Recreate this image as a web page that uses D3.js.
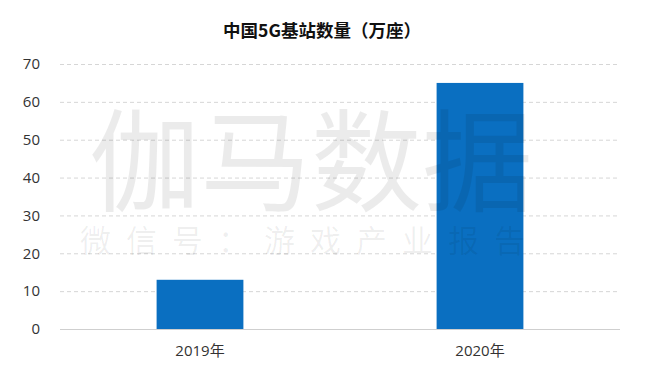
<!DOCTYPE html>
<html>
<head>
<meta charset="utf-8">
<script src="https://d3js.org/d3.v7.min.js"></script>
<style>
  body { margin: 0; background: #fff; }
  text { font-family: "Open Sans", "Noto Sans CJK SC", sans-serif; }
</style>
</head>
<body>
<div id="chart"></div>
<script>
  // chart data
  var years = ["2019年", "2020年"];
  var stations = [13, 65];
  var yTicks = [0, 10, 20, 30, 40, 50, 60, 70];
  var title = "中国5G基站数量（万座）";

  var width = 651, height = 376;
  var plotLeft = 60, plotRight = 620, plotTop = 64, plotBottom = 329;

  var svg = d3.select("#chart")
    .append("svg")
      .attr("width", width)
      .attr("height", height);

  var x = d3.scaleBand()
    .domain(years)
    .range([plotLeft, plotRight])
    .paddingInner(0.69)
    .paddingOuter(0.345);

  var y = d3.scaleLinear()
    .domain([0, 70])
    .range([plotBottom, plotTop]);

  // dashed gridlines
  svg.append("g")
    .selectAll("line")
    .data(yTicks.filter(function (d) { return d > 0; }))
    .enter()
    .append("line")
      .attr("x1", plotLeft)
      .attr("x2", plotRight)
      .attr("y1", function (d) { return y(d) + 0.5; })
      .attr("y2", function (d) { return y(d) + 0.5; })
      .style("stroke", "#d6d6d6")
      .style("stroke-dasharray", "4,3");

  // y axis labels
  var yAxis = d3.axisLeft(y).tickValues(yTicks).tickSize(0).tickPadding(20);
  svg.append("g")
    .attr("transform", "translate(" + plotLeft + ",0)")
    .call(yAxis)
    .call(function (g) { g.select(".domain").remove(); })
    .selectAll("text")
      .style("font-size", "15px")
      .style("fill", "#333");

  // bars
  svg.append("g")
    .selectAll("rect")
    .data(stations)
    .enter()
    .append("rect")
      .attr("x", function (d, i) { return x(years[i]); })
      .attr("width", x.bandwidth())
      .attr("y", function (d) { return y(d); })
      .attr("height", function (d) { return y(0) - y(d); })
      .style("fill", "#0a6fc1");

  // baseline
  svg.append("line")
    .attr("x1", plotLeft)
    .attr("x2", plotRight)
    .attr("y1", y(0) + 0.5)
    .attr("y2", y(0) + 0.5)
    .style("stroke", "#cfcfcf");

  // x axis labels
  var xAxis = d3.axisBottom(x).tickSize(0).tickPadding(16);
  svg.append("g")
    .attr("transform", "translate(0," + plotBottom + ")")
    .call(xAxis)
    .call(function (g) { g.select(".domain").remove(); })
    .selectAll("text")
      .style("font-size", "15px")
      .style("fill", "#333");

  // watermark
  svg.append("text")
    .attr("x", 89)
    .attr("y", 203)
    .style("font-family", "Noto Sans CJK SC")
    .style("font-size", "111px")
    .style("font-weight", "400")
    .style("fill", "#000")
    .style("fill-opacity", 0.08)
    .text("伽马数据");

  svg.append("text")
    .attr("x", 80)
    .attr("y", 252)
    .style("font-family", "Noto Sans CJK SC")
    .style("font-size", "31px")
    .style("font-weight", "400")
    .style("letter-spacing", "15px")
    .style("fill", "#000")
    .style("fill-opacity", 0.065)
    .text("微信号：游戏产业报告");

  // title
  svg.append("text")
    .attr("x", 322)
    .attr("y", 37)
    .attr("text-anchor", "middle")
    .style("font-family", "Noto Sans CJK SC")
    .style("font-size", "17.5px")
    .style("font-weight", "bold")
    .style("fill", "#111")
    .text(title);
</script>
</body>
</html>
